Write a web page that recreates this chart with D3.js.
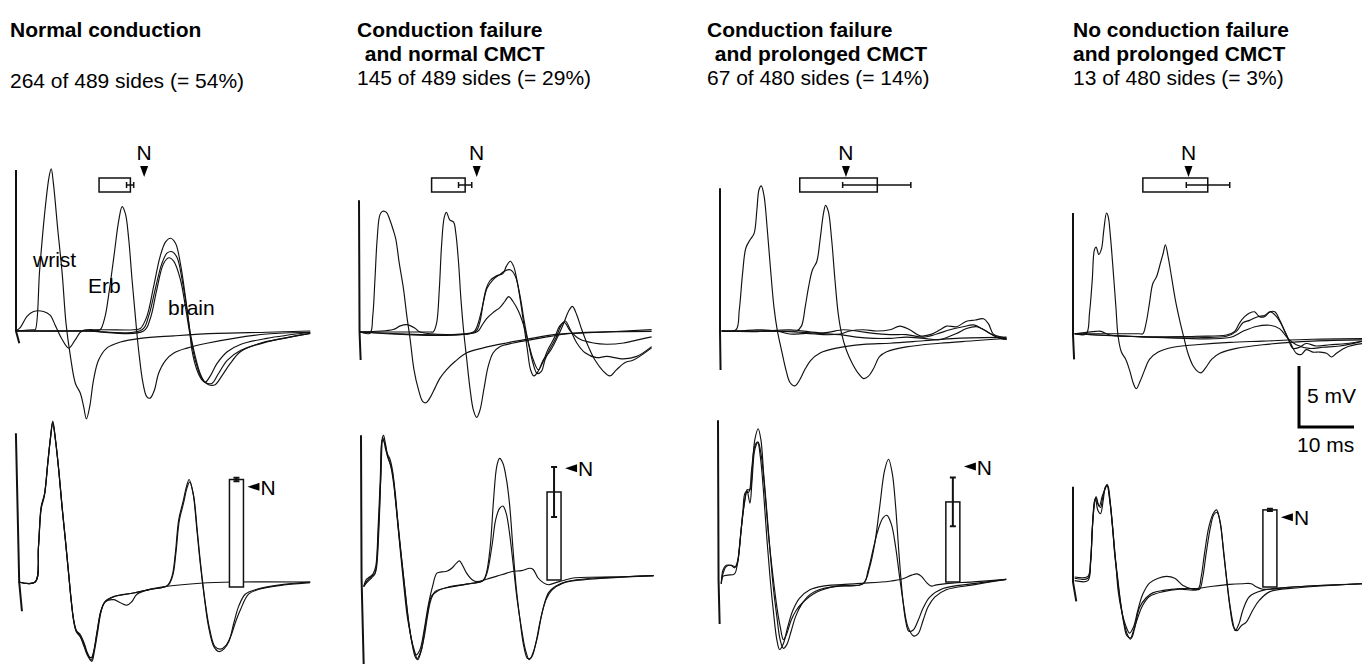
<!DOCTYPE html>
<html>
<head>
<meta charset="utf-8">
<script src="https://cdn.jsdelivr.net/npm/d3@7"></script>
<style>
  body { margin: 0; background: #fff; }
  svg { display: block; }
  text { font-family: "Liberation Sans", Arial, sans-serif; font-size: 21px; fill: #000; }
</style>
</head>
<body>
<div id="chart"></div>
<script>
// ---- Data: traces as [ms, mV] ----
const titles = [
  ["Normal conduction"],
  ["Conduction failure", " and normal CMCT"],
  ["Conduction failure", " and prolonged CMCT"],
  ["No conduction failure", "and prolonged CMCT"]
];
const counts = [
  "264 of 489 sides (= 54%)",
  "145 of 489 sides (= 29%)",
  "67 of 480 sides (= 14%)",
  "13 of 480 sides (= 3%)"
];
const traceLabels = ["wrist", "Erb", "brain"];

// latency boxes (ms) above the top traces
const boxStart = [15.1, 13.2, 14.5, 12.7];
const boxMean = [20.8, 19.3, 28.6, 24.5];
const boxSdLow = [20.1, 18.1, 22.3, 20.6];
const boxSdHigh = [21.4, 20.5, 34.7, 28.5];
const latencyNormal = [23.3, 21.4, 22.9, 21.0];

// amplitude bars (mV) on the bottom traces
const ampMean = [8.4, 7.05, 6.4, 5.5];
const ampSdLow = [8.25, 5.0, 4.4, 5.4];
const ampSdHigh = [8.55, 9.1, 8.4, 5.6];
const ampNormal = [7.8, 9.0, 9.3, 4.9];

// stimulus artefacts
const p1TopStim = [[0, 13.2], [0, 0], [0.6, -1.0]];
const p2TopStim = [[0, 10.8], [0.1, 0], [0.3, -2.3]];
const p3TopStim = [[0, 11.7], [0, 0], [0.1, -3.2]];
const p4TopStim = [[0, 10.0], [0, 0], [0.2, -2.0]];
const p1BotStim = [[-0.2, 12.2], [0.4, 0], [0.9, -2.4]];
const p2BotStim = [[0, 11.7], [0.1, 0], [0.5, -7.3]];
const p3BotStim = [[0, 13.1], [0.1, 0], [0.3, -3.6]];
const p4BotStim = [[0, 7.4], [0, -0.4], [0.6, -2.0]];

// panel 1
const p1TopWrist = [[0,0],[3.2,0.1],[3.5,0.1],[4.3,5.0],[5.2,9.6],[6.0,12.6],[6.4,13.3],[6.8,12.1],[7.6,8.3],[8.4,4.7],[9.1,0.6],[9.9,-2.1],[10.8,-4.3],[11.7,-5.1],[12.3,-6.2],[12.8,-7.2],[13.4,-6.2],[14.1,-4.0],[15.0,-2.4],[16.5,-1.4],[19.0,-0.9],[22.6,-0.6],[28.7,-0.4],[36.5,-0.2],[45.6,-0.1],[53.5,0]];
const p1TopErb = [[0,0],[14.5,0.05],[15.3,0.1],[16.2,1.2],[16.8,2.8],[17.8,6.1],[18.7,9.1],[19.3,10.2],[19.9,9.6],[20.5,7.5],[21.1,4.2],[21.7,1.2],[22.3,-1.6],[23.1,-4.3],[23.8,-5.4],[24.4,-5.5],[25.2,-4.8],[25.9,-3.5],[27.2,-2.4],[28.7,-1.8],[31.1,-1.4],[34.7,-1.0],[39.6,-0.6],[45.6,-0.25],[53.5,-0.1]];
const p1TopBrainA = [[0,0],[0.8,0.3],[2.0,1.2],[3.2,1.6],[5.0,1.6],[6.2,1.3],[7.2,0.4],[8.4,-0.7],[9.6,-1.4],[10.8,-0.7],[12.0,0],[15.3,0.1],[21.4,0.1],[22.6,0.2],[23.8,1.2],[25.0,3.6],[26.2,6.1],[27.2,7.3],[28.1,7.6],[29.0,7.2],[29.9,5.5],[30.8,2.8],[31.5,0.4],[32.0,-1.6],[32.9,-3.2],[33.8,-4.0],[34.4,-4.2],[35.3,-3.7],[36.5,-2.7],[38.4,-1.7],[40.8,-1.1],[45.6,-0.6],[53.5,-0.1]];
const p1TopBrainB = [[0,0],[12,0],[22.9,0.1],[24.1,1.2],[25.3,3.4],[26.5,5.5],[27.5,6.4],[28.4,6.5],[29.3,6.0],[30.2,4.2],[31.0,2.0],[31.7,-0.2],[32.6,-2.1],[33.5,-3.5],[34.4,-4.2],[35.6,-4.3],[36.8,-3.5],[38.4,-2.4],[40.8,-1.6],[45.6,-0.9],[53.5,-0.2]];
const p1TopBrainC = [[0,0],[12,0],[23.2,0],[24.4,1.0],[25.6,3.4],[26.8,5.5],[27.8,6.0],[28.7,5.7],[29.9,4.2],[30.8,2.0],[31.6,-0.2],[32.6,-2.4],[33.8,-3.9],[35.0,-4.4],[36.2,-4.4],[37.4,-3.7],[38.9,-2.7],[40.8,-1.7],[44.4,-1.0],[48.7,-0.6],[53.5,-0.2]];
const p1BotA = [[0.3,0],[3.3,0],[3.9,2.9],[4.4,6.2],[5.0,7.2],[5.6,9.8],[6.1,11.9],[6.5,13.2],[7.0,11.7],[7.6,9.2],[8.2,6.2],[8.8,3.5],[9.4,0.7],[9.8,-1.2],[10.3,-3.1],[10.8,-4.0],[11.5,-4.3],[12.2,-5.0],[12.8,-5.8],[13.5,-6.4],[13.9,-5.8],[14.5,-4.2],[15.2,-2.5],[15.9,-1.7],[17.6,-1.2],[21.2,-0.9],[24.2,-0.6],[27.3,-0.3],[28.2,0.5],[28.8,2.4],[29.4,5.1],[30.2,6.6],[30.8,7.8],[31.3,8.4],[32.0,7.3],[32.7,4.3],[33.3,1.6],[34.1,-1.4],[34.8,-3.6],[35.8,-5.3],[36.7,-5.7],[37.6,-5.5],[38.5,-4.9],[39.4,-3.4],[40.3,-2.0],[41.5,-1.0],[43.6,-0.6],[48.5,-0.2],[53.3,0]];
const p1BotB = [[0.3,0],[3.3,0],[3.9,2.8],[4.4,6.0],[5.0,7.1],[5.6,9.7],[6.1,11.8],[6.5,13.0],[7.0,11.6],[7.6,9.1],[8.2,6.1],[8.8,3.4],[9.4,0.6],[9.8,-1.3],[10.3,-3.2],[10.8,-4.1],[11.5,-4.5],[12.2,-5.3],[12.8,-6.0],[13.6,-6.5],[14.1,-5.6],[14.7,-4.0],[15.3,-2.4],[16.0,-1.6],[17.6,-1.2],[21.2,-0.9],[24.2,-0.6],[27.4,-0.3],[28.3,0.5],[28.9,2.4],[29.5,5.0],[30.3,6.5],[30.9,7.7],[31.4,8.2],[32.1,7.1],[32.8,4.1],[33.4,1.4],[34.2,-1.6],[35.0,-3.8],[36.0,-5.3],[37.0,-5.5],[38.0,-5.2],[38.9,-4.4],[39.8,-3.2],[40.6,-2.3],[42.1,-1.0],[44.0,-0.6],[48.5,-0.25],[53.3,-0.05]];
const p1BotC = [[0.3,0],[3.3,0],[3.9,2.9],[4.4,6.1],[5.0,7.2],[5.6,9.8],[6.1,11.9],[6.5,13.1],[7.0,11.6],[7.6,9.1],[8.2,6.1],[8.8,3.4],[9.4,0.6],[9.8,-1.3],[10.3,-3.1],[10.8,-4.0],[11.5,-4.4],[12.2,-5.1],[12.8,-5.9],[13.5,-6.2],[14.0,-5.6],[14.6,-4.0],[15.3,-2.3],[16.1,-1.6],[17.6,-1.45],[18.8,-1.7],[20.0,-1.9],[20.9,-1.6],[21.8,-1.0],[24.2,-0.6],[27.3,-0.35],[33.3,-0.1],[39.4,0],[53.3,0]];

// panel 2
const p2TopWrist = [[0.2,0],[2.0,-0.1],[2.5,1.3],[2.9,4.3],[3.3,7.6],[3.8,9.6],[4.3,9.9],[5.0,9.8],[5.6,9.2],[6.2,8.4],[6.7,7.6],[7.3,5.7],[8.1,3.5],[8.7,1.3],[9.3,-0.6],[10.0,-3.1],[10.8,-4.7],[11.6,-5.7],[12.2,-5.8],[12.9,-5.4],[13.8,-4.6],[14.7,-3.8],[15.9,-3.1],[17.5,-2.4],[19.6,-1.7],[22.6,-1.3],[26.8,-0.9],[30.5,-0.6],[35.9,-0.2],[45.0,0],[53.2,0.2]];
const p2TopErb = [[0.2,0],[13.0,0],[13.5,0],[14.1,0.7],[14.6,3.5],[15.0,7.0],[15.5,9.4],[15.9,9.8],[16.5,9.2],[17.2,9.0],[17.6,8.1],[18.1,5.7],[18.5,2.9],[19.0,0.2],[19.6,-2.3],[20.2,-4.7],[20.8,-6.4],[21.4,-7.0],[22.0,-6.4],[22.7,-4.7],[23.5,-2.8],[24.4,-1.7],[25.6,-1.2],[28.1,-0.9],[32.9,-0.5],[39.0,-0.1],[53.2,0.05]];
const p2TopBrainA = [[0.2,0],[6.2,0.2],[7.5,0.5],[8.7,0.6],[10.2,0.3],[11.1,0],[20.8,0],[21.5,0.5],[22.3,1.8],[23.1,3.5],[23.8,4.2],[25.0,4.6],[26.2,4.8],[26.8,5.4],[27.5,5.8],[28.1,5.4],[28.7,4.3],[29.4,2.4],[30.0,0.5],[30.6,-1.4],[31.2,-3.1],[31.8,-3.6],[32.6,-3.2],[33.5,-2.3],[34.7,-1.6],[35.9,-0.6],[37.2,0.7],[38.1,1.7],[38.8,2.1],[39.6,1.4],[40.5,0.2],[41.7,-1.2],[42.9,-2.3],[44.4,-3.2],[45.6,-3.6],[46.8,-3.1],[48.4,-2.5],[49.9,-2.3],[53.2,-1.3]];
const p2TopBrainB = [[0.2,0],[21.1,0],[21.9,0.7],[22.6,2.4],[23.3,3.6],[24.4,4.3],[25.6,4.7],[26.5,5.0],[27.5,5.1],[28.4,4.6],[29.3,2.9],[30.0,1.0],[30.8,-0.9],[31.6,-2.5],[32.4,-3.4],[33.2,-3.2],[33.8,-2.3],[34.7,-1.4],[35.8,-0.5],[36.7,0.5],[37.5,0.9],[38.4,0.2],[39.6,-0.9],[41.1,-1.7],[43.2,-2.1],[45.0,-2.0],[48.1,-2.2],[50.5,-2.0],[53.2,-1.2]];
const p2TopBrainC = [[0.2,0],[21.4,0],[22.3,0.5],[23.2,1.1],[24.4,1.6],[25.6,2.0],[26.5,2.5],[27.2,2.9],[28.0,2.5],[29.0,1.7],[29.9,0.6],[30.8,-0.9],[31.7,-2.3],[32.6,-3.1],[33.4,-2.5],[34.4,-1.4],[35.6,-0.4],[36.5,0.5],[37.3,0.8],[38.4,0.1],[40.2,-0.6],[42.6,-0.9],[45.0,-1.0],[48.1,-0.9],[51.1,-0.6],[53.2,-0.4]];
const p2BotA = [[0.5,-0.7],[1.0,-0.1],[1.6,0.1],[2.2,0.35],[2.7,1.0],[3.1,4.0],[3.5,8.1],[3.8,11.3],[4.1,11.7],[4.4,11.1],[4.8,10.2],[5.3,9.7],[5.8,8.6],[6.2,6.7],[6.8,4.2],[7.4,1.5],[8.0,-1.0],[8.6,-3.4],[9.2,-5.1],[9.8,-6.1],[10.2,-6.6],[10.8,-6.1],[11.5,-4.8],[12.1,-3.1],[12.7,-1.8],[13.5,-1.1],[15.6,-0.8],[19.2,-0.5],[22.2,-0.2],[22.8,0.4],[23.5,2.6],[24.1,6.4],[24.7,9.2],[25.2,9.8],[25.8,9.4],[26.4,8.2],[27.0,6.1],[27.6,2.6],[28.2,-0.7],[28.9,-3.4],[29.6,-5.6],[30.3,-6.6],[31.0,-6.5],[31.8,-5.3],[32.5,-3.7],[33.3,-2.2],[34.1,-1.2],[35.3,-0.7],[37.4,-0.3],[42.2,0],[47.7,0.1],[53.2,0.2]];
const p2BotB = [[0.5,-0.7],[1.0,-0.4],[1.9,0],[2.5,0.3],[2.8,1.0],[3.2,4.2],[3.6,8.3],[3.9,11.3],[4.3,11.1],[4.8,10.0],[5.4,9.2],[6.0,7.5],[6.6,4.8],[7.2,2.0],[7.8,-0.7],[8.4,-3.1],[9.2,-5.1],[9.8,-6.4],[10.3,-6.7],[11.0,-5.9],[11.6,-4.2],[12.2,-2.6],[12.8,-1.5],[13.8,-1.1],[16.2,-0.7],[19.2,-0.5],[22.2,-0.2],[22.9,0.4],[23.8,2.6],[24.5,4.8],[25.2,5.7],[25.8,5.9],[26.4,5.3],[27.0,3.7],[27.7,1.0],[28.4,-1.8],[29.2,-4.2],[29.9,-5.9],[30.6,-6.7],[31.3,-6.1],[32.1,-4.8],[32.8,-3.1],[33.6,-1.8],[34.7,-1.0],[36.8,-0.4],[41.6,-0.1],[53.2,0.2]];
const p2BotC = [[0.5,-0.7],[1.0,-0.3],[1.8,0.1],[2.5,0.35],[2.8,0.8],[3.3,4.5],[3.6,8.3],[4.0,11.5],[4.5,10.5],[5.0,9.8],[5.6,8.9],[6.2,7.1],[6.8,4.0],[7.6,0.7],[8.2,-1.8],[8.8,-4.0],[9.4,-5.6],[10.0,-6.3],[10.7,-5.9],[11.5,-4.2],[12.2,-2.3],[13.0,-0.7],[13.8,0.4],[14.7,0.5],[15.6,0.55],[16.5,0.8],[17.3,1.2],[17.9,1.4],[18.5,1.0],[19.2,0.4],[20.1,-0.1],[21.0,-0.3],[22.8,-0.1],[24.7,0.15],[26.5,0.4],[27.7,0.55],[29.2,0.6],[30.7,0.8],[31.3,0.7],[32.2,0],[33.2,-0.4],[34.1,-0.55],[35.3,-0.4],[36.8,-0.2],[38.6,0],[47.7,0.1],[53.2,0.2]];

// panel 3
const p3TopWrist = [[0.3,0],[2.9,0.1],[3.5,1.7],[4.1,4.7],[4.7,6.8],[5.5,7.5],[6.2,8.0],[6.7,9.9],[7.1,11.6],[7.5,11.9],[8.0,11.1],[8.6,8.3],[9.2,5.0],[9.8,2.0],[10.4,0.1],[11.2,-1.6],[12.0,-3.2],[12.7,-4.2],[13.6,-4.5],[14.5,-4.0],[15.5,-3.1],[16.5,-2.4],[18.2,-1.8],[21.2,-1.4],[26.1,-1.1],[30.9,-1.0],[37.0,-0.8],[43.0,-0.6],[52.1,-0.5]];
const p3TopErb = [[0.3,0],[13.0,0],[13.9,0],[14.8,0.4],[15.5,2.0],[16.1,3.6],[16.8,5.0],[17.6,5.7],[18.2,7.5],[18.8,9.6],[19.2,10.3],[19.7,9.8],[20.3,7.5],[20.9,4.2],[21.5,1.4],[22.1,-0.2],[23.0,-1.6],[24.1,-2.7],[25.2,-3.5],[26.1,-3.9],[27.0,-3.7],[27.9,-3.1],[29.0,-2.1],[30.3,-1.7],[33.9,-1.3],[40.0,-1.0],[46.1,-0.8],[52.1,-0.6]];
const p3TopBrainA = [[0.3,0],[3.6,0],[6.7,0.1],[10.3,0],[12.7,-0.25],[15.7,-0.2],[18.8,-0.3],[21.8,-0.25],[23.6,0],[26.1,0.1],[28.5,0],[30.9,0.1],[32.7,0.4],[34.5,0.1],[36.4,-0.4],[38.2,-0.3],[40.0,0.1],[41.2,0.4],[43.0,0.35],[44.8,0.8],[46.4,0.9],[47.9,1.0],[48.8,0.6],[49.7,-0.25],[51.2,-0.5],[52.1,-0.6]];
const p3TopBrainB = [[0.3,0],[6.7,-0.05],[12.7,0.1],[18.8,-0.15],[22.4,0.1],[24.8,0],[27.9,-0.2],[30.9,-0.3],[33.9,-0.3],[37.0,-0.5],[39.4,-0.25],[41.8,0.1],[44.2,0.35],[46.1,0.5],[47.6,0.2],[49.1,-0.2],[50.9,-0.6],[52.1,-0.7]];
const p3TopBrainC = [[0.3,0],[12.7,-0.05],[18.0,-0.2],[21.8,-0.3],[24.8,-0.5],[27.9,-0.6],[30.9,-0.6],[33.9,-0.5],[37.0,-0.6],[40.0,-0.7],[43.0,-0.2],[44.8,0.2],[46.7,0.35],[48.5,-0.05],[50.3,-0.5],[52.1,-0.7]];
const p3BotA = [[0.6,-0.3],[0.9,0.5],[1.5,1.1],[2.4,1.2],[3.0,1.0],[3.6,1.6],[4.2,4.1],[4.8,6.3],[5.3,7.4],[5.8,7.4],[6.2,9.0],[6.7,11.5],[7.3,12.4],[7.8,11.5],[8.3,8.7],[8.9,5.5],[9.5,2.2],[10.1,-0.8],[10.7,-3.0],[11.3,-4.9],[11.9,-5.6],[12.5,-5.3],[13.3,-4.2],[14.1,-3.0],[15.2,-2.0],[16.7,-1.2],[19.1,-0.7],[22.1,-0.5],[26.4,-0.3],[27.6,1.1],[28.5,3.0],[29.4,6.0],[30.3,9.0],[31.0,9.9],[31.7,8.7],[32.3,6.0],[32.9,2.2],[33.5,-1.1],[34.1,-3.3],[34.7,-4.2],[35.5,-4.1],[36.4,-3.3],[37.3,-2.3],[38.5,-1.4],[40.9,-0.7],[46.4,-0.3],[52.4,0.05]];
const p3BotB = [[0.6,-0.3],[0.9,0.3],[1.8,0.4],[3.0,0.5],[3.6,1.6],[4.2,4.1],[4.8,6.3],[5.3,7.3],[5.8,6.3],[6.2,8.2],[6.7,10.7],[7.3,11.3],[7.9,10.1],[8.5,7.4],[9.2,3.6],[10.0,0.3],[10.7,-2.2],[11.3,-3.8],[11.9,-4.9],[12.5,-4.4],[13.3,-3.3],[14.2,-2.5],[15.5,-1.8],[17.9,-1.0],[21.5,-0.5],[26.4,-0.3],[27.3,0.8],[28.2,2.5],[29.1,4.1],[30.0,5.1],[30.7,5.3],[31.5,4.6],[32.3,2.7],[33.0,0.3],[33.8,-2.2],[34.5,-3.8],[35.6,-4.6],[36.4,-4.4],[37.3,-3.3],[38.2,-2.2],[39.4,-1.4],[41.5,-0.8],[46.4,-0.4],[52.4,0.05]];
const p3BotC = [[0.6,-0.3],[0.9,0.8],[1.5,1.2],[2.4,1.2],[3.3,1.1],[3.9,2.7],[4.5,5.5],[5.0,7.2],[5.6,7.2],[6.1,9.0],[6.7,11.0],[7.2,11.3],[7.7,10.1],[8.3,7.1],[8.9,3.3],[9.5,0],[10.1,-2.7],[10.7,-4.9],[11.2,-5.7],[11.9,-5.2],[12.7,-3.8],[13.6,-2.5],[14.8,-1.5],[16.7,-0.8],[19.1,-0.5],[25.2,-0.3],[31.2,-0.1],[33.6,0.1],[35.2,0.4],[36.2,0.5],[37.0,0.3],[37.9,-0.2],[38.8,-0.5],[39.7,-0.4],[41.5,-0.3],[46.4,-0.15],[52.4,0.05]];

// panel 4
const p4TopWrist = [[0.3,0.1],[2.4,0.1],[3.0,1.8],[3.5,4.5],[3.9,7.0],[4.2,7.2],[4.7,6.6],[5.2,7.1],[5.6,8.6],[6.1,10.0],[6.4,9.7],[6.8,8.1],[7.3,5.3],[7.8,2.3],[8.2,-0.1],[8.8,-1.4],[9.6,-2.0],[10.3,-2.9],[11.0,-4.0],[11.5,-4.4],[12.2,-3.8],[13.0,-2.9],[13.9,-2.0],[15.5,-1.4],[18.2,-1.0],[22.4,-0.8],[28.5,-0.6],[34.5,-0.5],[43.6,-0.35],[52.7,-0.3]];
const p4TopErb = [[0.3,0.1],[12.0,0.1],[12.7,0.1],[13.3,1.0],[13.9,2.6],[14.5,4.2],[15.2,4.8],[15.9,5.9],[16.4,6.7],[16.8,7.4],[17.3,6.4],[17.9,4.8],[18.6,2.9],[19.4,1.2],[20.1,-0.1],[20.9,-1.5],[21.8,-2.5],[22.7,-3.0],[23.3,-3.1],[24.1,-2.7],[25.2,-2.0],[26.7,-1.5],[29.7,-1.1],[34.5,-0.8],[43.6,-0.5],[52.7,-0.4]];
const p4TopBrainA = [[0.3,0.1],[4.2,0.3],[5.1,0.3],[6.7,0],[10.3,-0.1],[16.4,-0.2],[22.4,-0.1],[27.9,0],[29.4,0.3],[30.3,1.0],[31.2,1.5],[32.1,1.8],[33.0,1.9],[33.9,1.5],[34.8,1.5],[35.8,1.9],[36.7,1.9],[37.6,1.2],[38.7,0.1],[39.7,-0.8],[40.6,-1.5],[41.5,-1.6],[42.4,-1.2],[43.6,-1.4],[44.8,-1.4],[46.1,-1.5],[47.0,-1.8],[47.9,-1.5],[49.7,-1.0],[52.7,-0.7]];
const p4TopBrainB = [[0.3,0.1],[10,-0.1],[20,-0.15],[27.9,-0.1],[29.7,0.3],[30.9,1.0],[32.1,1.2],[33.6,1.5],[34.8,1.6],[35.9,1.9],[37.0,1.5],[38.1,0.7],[39.1,-0.3],[40.0,-1.1],[41.2,-1.0],[42.4,-0.7],[44.2,-0.9],[46.7,-0.8],[49.7,-0.7],[52.7,-0.5]];
const p4TopBrainC = [[0.3,0.1],[15,-0.2],[28.5,-0.2],[30.9,0.3],[33.3,0.7],[35.8,0.8],[37.6,0.5],[39.1,-0.3],[40.6,-0.8],[43.0,-1.1],[45.5,-1.0],[48.5,-0.9],[52.7,-0.5]];
const p4BotA = [[0.3,0],[2.7,0.05],[3.2,1.4],[3.5,3.8],[3.9,6.1],[4.2,6.6],[4.5,6.1],[4.8,5.8],[5.3,6.6],[5.8,7.2],[6.2,7.6],[6.7,6.3],[7.2,4.1],[7.6,1.9],[8.1,0],[8.6,-1.9],[9.2,-3.6],[9.8,-4.6],[10.4,-5.1],[11.0,-4.4],[11.8,-3.3],[12.7,-2.3],[13.9,-1.6],[16.4,-1.2],[19.4,-1.0],[22.7,-1.0],[23.3,0],[23.9,1.9],[24.7,4.1],[25.5,5.2],[26.1,5.5],[26.7,4.6],[27.3,2.5],[27.9,0],[28.5,-2.2],[29.1,-3.8],[29.5,-4.4],[30.2,-3.8],[30.9,-2.7],[32.1,-1.6],[34.5,-1.1],[40.6,-0.8],[52.7,-0.55]];
const p4BotB = [[0.3,-0.3],[2.7,-0.3],[3.2,1.1],[3.6,4.6],[4.1,6.4],[4.5,5.5],[5.0,5.2],[5.5,6.3],[5.9,7.4],[6.3,7.5],[6.8,6.0],[7.3,3.6],[7.8,1.1],[8.2,-1.1],[8.8,-2.7],[9.6,-4.0],[10.3,-4.6],[11.0,-4.1],[11.8,-2.7],[12.7,-1.4],[13.9,-0.5],[15.5,-0.1],[17.0,0.05],[18.5,-0.1],[20.0,-0.7],[21.8,-1.0],[23.0,-1.0],[23.6,0],[24.2,1.9],[25.0,4.1],[25.6,5.1],[26.2,5.3],[26.8,4.4],[27.4,1.9],[28.0,-0.5],[28.6,-2.7],[29.2,-4.1],[29.8,-4.4],[30.6,-4.0],[31.5,-3.7],[32.7,-2.7],[33.9,-1.9],[35.8,-1.2],[40.6,-0.9],[52.7,-0.55]];
const p4BotC = [[0.3,-0.1],[2.7,-0.1],[3.2,1.3],[3.5,3.9],[3.9,6.2],[4.2,6.5],[4.6,5.9],[5.0,5.7],[5.4,6.5],[5.9,7.3],[6.2,7.5],[6.7,6.2],[7.2,4.0],[7.6,1.8],[8.1,-0.2],[8.6,-2.0],[9.2,-3.7],[9.8,-4.8],[10.6,-5.0],[11.2,-4.2],[12.1,-2.5],[13.3,-1.7],[14.5,-1.3],[16.4,-1.1],[19.4,-0.95],[22.4,-0.95],[24.8,-0.8],[28.5,-0.6],[30.9,-0.55],[32.4,-0.55],[33.3,-0.8],[34.5,-1.0],[35.8,-1.0],[40.6,-0.8],[52.7,-0.55]];

// ---- Layout ----
const width = 1362;
const height = 664;
const ms10 = 55;   // px for 10 ms
const mv5 = 61;    // px for 5 mV

const panels = [
  { titleX: 10, lineDx: [0], lineY: [37], countY: 88,
    top: { x0: 16, y0: 331, stim: p1TopStim, traces: [p1TopWrist, p1TopErb, p1TopBrainA, p1TopBrainB, p1TopBrainC] },
    bot: { x0: 17, y0: 582, stim: p1BotStim, traces: [p1BotA, p1BotB, p1BotC], barT: 39.9, barDrop: 5 } },
  { titleX: 357, lineDx: [0, 2], lineY: [37, 61], countY: 85,
    top: { x0: 359, y0: 332, stim: p2TopStim, traces: [p2TopWrist, p2TopErb, p2TopBrainA, p2TopBrainB, p2TopBrainC] },
    bot: { x0: 361, y0: 578, stim: p2BotStim, traces: [p2BotA, p2BotB, p2BotC], barT: 35.1, barDrop: 2 } },
  { titleX: 707, lineDx: [0, 2], lineY: [37, 61], countY: 85,
    top: { x0: 720, y0: 331, stim: p3TopStim, traces: [p3TopWrist, p3TopErb, p3TopBrainA, p3TopBrainB, p3TopBrainC] },
    bot: { x0: 718, y0: 580, stim: p3BotStim, traces: [p3BotA, p3BotB, p3BotC], barT: 42.7, barDrop: 2 } },
  { titleX: 1073, lineDx: [0, 0], lineY: [37, 61], countY: 85,
    top: { x0: 1073, y0: 335, stim: p4TopStim, traces: [p4TopWrist, p4TopErb, p4TopBrainA, p4TopBrainB, p4TopBrainC] },
    bot: { x0: 1073, y0: 577, stim: p4BotStim, traces: [p4BotA, p4BotB, p4BotC], barT: 35.8, barDrop: 10 } }
];
const labelPos = [[33, 267], [88, 293], [168, 315]];

const svg = d3.select("#chart").append("svg")
  .attr("width", width).attr("height", height)
  .attr("viewBox", [0, 0, width, height]);

function scalesFor(x0, y0) {
  return {
    x: d3.scaleLinear().domain([0, 10]).range([x0, x0 + ms10]),
    y: d3.scaleLinear().domain([0, 5]).range([y0, y0 - mv5])
  };
}

function drawTraces(g, spec) {
  const s = scalesFor(spec.x0, spec.y0);
  const line = d3.line().x(d => s.x(d[0])).y(d => s.y(d[1]))
    .curve(d3.curveCatmullRom.alpha(0.5));
  g.selectAll("path.trace")
    .data(spec.traces)
    .join("path")
    .attr("class", "trace")
    .attr("d", line)
    .attr("fill", "none")
    .attr("stroke", "#111")
    .attr("stroke-width", 1.15)
    .attr("stroke-linejoin", "round");
  g.append("path")
    .datum(spec.stim)
    .attr("d", d3.line().x(d => s.x(d[0])).y(d => s.y(d[1])))
    .attr("fill", "none")
    .attr("stroke", "#111")
    .attr("stroke-width", 2);
  return s;
}

panels.forEach((p, i) => {
  const g = svg.append("g");

  // titles
  titles[i].forEach((t, j) => {
    g.append("text")
      .attr("x", p.titleX + p.lineDx[j])
      .attr("y", p.lineY[j])
      .attr("font-weight", "bold")
      .style("white-space", "pre")
      .attr("xml:space", "preserve")
      .text(t);
  });
  g.append("text").attr("x", p.titleX).attr("y", p.countY).text(counts[i]);

  // top traces + latency box
  const st = drawTraces(g.append("g"), p.top);
  const boxTop = 178, boxBot = 192, barY = 185;
  g.append("rect")
    .attr("x", st.x(boxStart[i]))
    .attr("y", boxTop)
    .attr("width", st.x(boxMean[i]) - st.x(boxStart[i]))
    .attr("height", boxBot - boxTop)
    .attr("fill", "none").attr("stroke", "#111").attr("stroke-width", 1.5);
  g.append("path")
    .attr("d", `M${st.x(boxSdLow[i])},${barY}H${st.x(boxSdHigh[i])}` +
      `M${st.x(boxSdLow[i])},${barY - 3}V${barY + 3}` +
      `M${st.x(boxSdHigh[i])},${barY - 3}V${barY + 3}`)
    .attr("stroke", "#111").attr("stroke-width", 1.5).attr("fill", "none");
  const nx = st.x(latencyNormal[i]);
  g.append("path")
    .attr("d", `M${nx - 4},166L${nx + 4},166L${nx},177Z`)
    .attr("fill", "#000");
  g.append("text").attr("x", nx).attr("y", 160).attr("text-anchor", "middle").text("N");

  // bottom traces + amplitude bar
  const sb = drawTraces(g.append("g"), p.bot);
  const bx = sb.x(p.bot.barT);
  const bw = 14;
  const bTop = sb.y(ampMean[i]);
  const bBot = sb.y(0) + p.bot.barDrop;
  g.append("rect")
    .attr("x", bx - bw / 2).attr("y", bTop)
    .attr("width", bw).attr("height", bBot - bTop)
    .attr("fill", "#fff").attr("stroke", "#111").attr("stroke-width", 1.5);
  const e1 = sb.y(ampSdHigh[i]), e2 = sb.y(ampSdLow[i]);
  g.append("path")
    .attr("d", `M${bx},${e1}V${e2}M${bx - 3},${e1}H${bx + 3}M${bx - 3},${e2}H${bx + 3}`)
    .attr("stroke", "#111").attr("stroke-width", 2).attr("fill", "none");
  const ny = sb.y(ampNormal[i]);
  const ax = bx + bw / 2 + 4;
  g.append("path")
    .attr("d", `M${ax},${ny}L${ax + 12},${ny - 4}L${ax + 12},${ny + 4}Z`)
    .attr("fill", "#000");
  g.append("text").attr("x", ax + 13).attr("y", ny + 8).text("N");
});

// trace labels in panel 1
traceLabels.forEach((t, i) => {
  svg.append("text").attr("x", labelPos[i][0]).attr("y", labelPos[i][1]).text(t);
});

// scale bar
const sbX = 1299, sbY = 427;
svg.append("path")
  .attr("d", `M${sbX},${sbY - mv5}V${sbY}H${sbX + ms10}`)
  .attr("fill", "none").attr("stroke", "#000").attr("stroke-width", 3);
svg.append("text").attr("x", sbX + 8).attr("y", 403).text("5 mV");
svg.append("text").attr("x", sbX - 2).attr("y", 452).text("10 ms");
</script>
</body>
</html>
